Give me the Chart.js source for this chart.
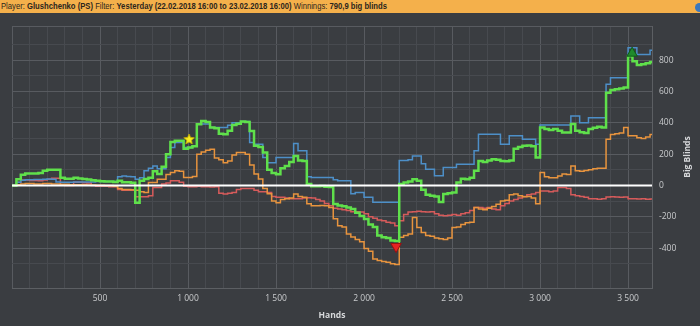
<!DOCTYPE html>
<html>
<head>
<meta charset="utf-8">
<script src="https://cdn.jsdelivr.net/npm/chart.js@4.4.1/dist/chart.umd.min.js"></script>
<style>
  html, body { margin: 0; padding: 0; background: #3a3d41; width: 700px; height: 326px; overflow: hidden; }
  #header { position: absolute; left: 0; top: 0; width: 700px; height: 13px; background: #f4b04b; overflow: hidden; }
  #headerText { position: absolute; left: 1px; top: 0; line-height: 13px; font: 9.5px 'Liberation Sans Narrow', 'Liberation Sans', sans-serif; color: #2b251d; white-space: nowrap; transform-origin: 0 0; }
  #headerText b { font-weight: 700; }
  #icon { position: absolute; left: 695px; top: 3px; width: 9px; height: 9px; border-radius: 50%; background: #3b78bd; }
  #wrap { position: absolute; left: 0; top: 14px; width: 700px; height: 312px; }
</style>
</head>
<body>
<div id="header">
  <span id="headerText">Player: <b>Glushchenko (PS)</b> Filter: <b>Yesterday (22.02.2018 16:00 to 23.02.2018 16:00)</b> Winnings: <b>790,9 big blinds</b></span>
  <div id="icon"></div>
</div>
<div id="wrap"><canvas id="graph" width="700" height="312"></canvas></div>
<script>
// hands played (x) and cumulative results in big blinds, read every 25 hands
const hands = [0, 25, 50, 75, 100, 125, 150, 175,
  200, 225, 250, 275, 300, 325, 350, 375,
  400, 425, 450, 475, 500, 525, 550, 575,
  600, 625, 650, 675, 700, 725, 750, 775,
  800, 825, 850, 875, 900, 925, 950, 975,
  1000, 1025, 1050, 1075, 1100, 1125, 1150, 1175,
  1200, 1225, 1250, 1275, 1300, 1325, 1350, 1375,
  1400, 1425, 1450, 1475, 1500, 1525, 1550, 1575,
  1600, 1625, 1650, 1675, 1700, 1725, 1750, 1775,
  1800, 1825, 1850, 1875, 1900, 1925, 1950, 1975,
  2000, 2025, 2050, 2075, 2100, 2125, 2150, 2175,
  2200, 2225, 2250, 2275, 2300, 2325, 2350, 2375,
  2400, 2425, 2450, 2475, 2500, 2525, 2550, 2575,
  2600, 2625, 2650, 2675, 2700, 2725, 2750, 2775,
  2800, 2825, 2850, 2875, 2900, 2925, 2950, 2975,
  3000, 3025, 3050, 3075, 3100, 3125, 3150, 3175,
  3200, 3225, 3250, 3275, 3300, 3325, 3350, 3375,
  3400, 3425, 3450, 3475, 3500, 3525, 3550, 3575,
  3600, 3625, 3636];

const netWon = [0, 40, 68, 76, 76, 76, 80, 94,
  100, 100, 100, 50, 43, 43, 49, 45,
  42, 38, 34, 30, 27, 25, 25, 22,
  30, 20, 20, 18, -110, 30, 42, 50,
  90, 74, 120, 200, 278, 285, 285, 234,
  243, 250, 391, 412, 405, 370, 365, 330,
  327, 350, 386, 395, 408, 405, 348, 253,
  245, 210, 100, 80, 72, 110, 125, 150,
  189, 160, 157, 10, -5, -5, -3, -8,
  -10, -118, -128, -132, -140, -150, -175, -195,
  -215, -250, -265, -320, -331, -335, -352, -355,
  10, 19, 25, 40, 30, -28, -60, -65,
  -70, -105, -55, -50, -45, 19, 43, 40,
  50, 94, 157, 150, 160, 168, 165, 157,
  155, 160, 234, 245, 253, 255, 250, 178,
  370, 361, 355, 361, 350, 338, 338, 393,
  350, 340, 335, 360, 368, 375, 370, 592,
  610, 615, 620, 625, 826, 794, 770, 775,
  780, 788, 788];

const allInAdj = [0, 20, 34, 36, 36, 38, 38, 40,
  42, 40, 22, 20, 20, 20, 22, 22,
  22, 22, 22, 25, 25, 25, 25, 25,
  55, 60, 58, 55, 40, 50, 94, 110,
  125, 106, 106, 178, 242, 275, 275, 242,
  242, 250, 393, 393, 393, 370, 370, 370,
  370, 385, 401, 401, 408, 408, 274, 263,
  263, 178, 145, 145, 178, 178, 178, 178,
  268, 221, 221, 55, 51, 51, 51, 51,
  51, 36, 30, 30, 30, -53, -45, -45,
  -76, -76, -108, -108, -108, -108, -108, -108,
  160, 160, 164, 189, 189, 138, 104, 104,
  62, 62, 115, 115, 115, 136, 136, 136,
  136, 221, 327, 327, 327, 327, 327, 263,
  263, 317, 317, 317, 296, 296, 296, 263,
  386, 386, 386, 386, 386, 386, 386, 444,
  444, 401, 401, 433, 433, 433, 433, 646,
  688, 688, 688, 688, 879, 879, 837, 837,
  837, 864, 864];

const showdownWon = [0, 5, 10, 12, 12, 10, 10, 12,
  12, 10, 10, 8, 8, 5, 5, 5,
  5, 3, 3, 2, 2, 0, 0, -5,
  -20, -25, -25, -28, -30, -40, -45, 19,
  19, 40, 40, 70, 83, 94, 90, 51,
  51, 57, 200, 214, 225, 232, 175, 165,
  145, 157, 195, 210, 210, 200, 130, 73,
  41, -20, -53, -100, -110, -90, -85, -80,
  -55, -70, -76, -117, -130, -130, -128, -130,
  -140, -212, -257, -265, -310, -330, -345, -360,
  -403, -420, -470, -480, -485, -490, -500, -505,
  -331, -320, -310, -204, -268, -300, -320, -325,
  -335, -340, -345, -335, -268, -265, -250, -238,
  -235, -140, -150, -155, -145, -135, -120, -100,
  -95, -60, -55, -65, -72, -70, -80, -117,
  83, 55, 49, 50, 60, 74, 70, 125,
  94, 90, 95, 100, 106, 110, 110, 296,
  325, 330, 335, 370, 317, 317, 304, 300,
  310, 325, 325];

const nonShowdownWon = [0, 20, 35, 35, 32, 32, 30, 35,
  40, 46, 46, 2, 0, 0, 20, 20,
  18, 15, 0, -5, -5, -5, -8, -8,
  -25, -30, -30, -30, -72, -72, -72, -65,
  -13, -13, 10, 15, 30, 30, 20, -5,
  -8, -8, -5, -8, -8, -10, -8, -50,
  -55, -50, -45, -25, -19, -19, -20, -30,
  -40, -40, -45, -70, -76, -76, -80, -85,
  -85, -85, -80, -78, -80, -90, -100, -115,
  -130, -145, -150, -155, -160, -168, -168, -170,
  -180, -200, -210, -220, -225, -235, -240, -258,
  -225, -185, -170, -168, -165, -168, -170, -168,
  -180, -190, -193, -190, -185, -190, -180, -175,
  -160, -140, -140, -145, -140, -150, -155, -130,
  -115, -100, -90, -80, -70, -60, -55, -45,
  -36, -36, -40, -36, -13, -13, -20, -60,
  -66, -70, -75, -85, -85, -88, -85, -74,
  -72, -74, -76, -74, -85, -85, -87, -85,
  -88, -87, -87];

// marked points: session high before drop, lowest point, highest point
const markerHands = [1006, 2182, 3523];
const markerValues = [297, -390, 845];

const yTickStep = 100;
const xTickStep = 100;

function fmtThousands(v) {
  if (Math.abs(v) < 1000) return String(v);
  return Math.floor(v / 1000) + ' ' + String(v % 1000).padStart(3, '0');
}

function starImage(size, fill, stroke) {
  const c = document.createElement('canvas');
  c.width = c.height = size;
  const g = c.getContext('2d');
  const cx = size / 2, cy = size / 2 + 0.5, R = size / 2 - 0.5, r = R * 0.45;
  g.beginPath();
  for (let i = 0; i < 10; i++) {
    const a = -Math.PI / 2 + i * Math.PI / 5;
    const rad = i % 2 ? r : R;
    g.lineTo(cx + rad * Math.cos(a), cy + rad * Math.sin(a));
  }
  g.closePath();
  g.fillStyle = fill;
  g.fill();
  g.strokeStyle = stroke;
  g.lineWidth = 0.8;
  g.stroke();
  return c;
}

// fit header text to the width it has in the original bar
const ht = document.getElementById('headerText');
ht.style.transform = 'scaleX(' + (386 / ht.getBoundingClientRect().width) + ')';

const toPts = vals => hands.map((h, i) => ({ x: h, y: vals[i] }));

const gridMinor = '#474a4f';
const gridMajor = '#585b60';

// white zero line, drawn over the series
const zeroLine = {
  id: 'zeroLine',
  afterDatasetsDraw(chart) {
    const { ctx, chartArea } = chart;
    const y = chart.scales.y.getPixelForValue(0);
    ctx.save();
    ctx.strokeStyle = '#ffffff';
    ctx.lineWidth = 2;
    ctx.beginPath();
    ctx.moveTo(chartArea.left, y);
    ctx.lineTo(chartArea.right, y);
    ctx.stroke();
    ctx.restore();
  },
  afterDraw(chart) {
    const ctx = chart.ctx;
    ctx.save();
    ctx.translate(688, 143);
    ctx.rotate(-Math.PI / 2);
    ctx.font = 'bold 8.5px "Open Sans"';
    ctx.fillStyle = '#d6d8da';
    ctx.textAlign = 'center';
    ctx.textBaseline = 'middle';
    ctx.fillText('Big Blinds', 0, 0);
    ctx.restore();
  }
};

new Chart(document.getElementById('graph'), {
  type: 'line',
  data: {
    datasets: [
      {
        type: 'scatter',
        data: markerHands.map((h, i) => ({ x: h, y: markerValues[i] })),
        showLine: false,
        pointStyle: [starImage(12, '#f7ec1f', '#c8b400'), 'triangle', 'triangle'],
        rotation: [0, 180, 0],
        pointRadius: 6,
        backgroundColor: ['#f7ec1f', '#e42222', '#1f8a2c'],
        borderColor: ['#c8b400', '#9a1010', '#0f5a18'],
        borderWidth: 1
      },
      { data: toPts(netWon), borderColor: '#5fe04b', borderWidth: 2.5, stepped: true, pointRadius: 0 },
      { data: toPts(allInAdj), borderColor: '#4d8fc8', borderWidth: 1.5, stepped: true, pointRadius: 0 },
      { data: toPts(showdownWon), borderColor: '#e8943e', borderWidth: 1.5, stepped: true, pointRadius: 0 },
      { data: toPts(nonShowdownWon), borderColor: '#d65b5b', borderWidth: 1.5, stepped: true, pointRadius: 0 }
    ]
  },
  options: {
    responsive: false,
    animation: false,
    layout: { padding: { left: 12, top: 11, right: 0, bottom: 0 } },
    plugins: { legend: { display: false }, tooltip: { enabled: false } },
    scales: {
      x: {
        type: 'linear',
        min: 0,
        max: 3636,
        afterFit: s => { s.height = 38; },
        border: { color: '#5c5f63' },
        grid: {
          drawTicks: false,
          color: c => (c.tick.value % 500 === 0 || c.index === 0) ? gridMajor : gridMinor
        },
        ticks: {
          stepSize: xTickStep,
          autoSkip: false,
          maxRotation: 0,
          padding: 5,
          color: '#c9cbcd',
          font: { family: 'Open Sans', size: 8.5 },
          callback: v => (v > 0 && v % 500 === 0) ? fmtThousands(v) : ''
        },
        title: {
          display: true,
          text: 'Hands',
          color: '#d6d8da',
          font: { family: 'Open Sans', size: 8.5, weight: 'bold' },
          padding: { top: 0, bottom: 5 }
        }
      },
      y: {
        position: 'right',
        min: -655,
        max: 1018,
        afterFit: s => { s.width = 48; },
        border: { color: '#5c5f63' },
        grid: {
          drawTicks: false,
          color: c => (c.tick.value % 200 === 0 || c.tick.value === 1018) ? gridMajor : gridMinor
        },
        ticks: {
          stepSize: yTickStep,
          padding: 7,
          color: '#c9cbcd',
          font: { family: 'Open Sans', size: 8.5 },
          callback: v => (v % 200 === 0 && v <= 800) ? String(v) : ''
        }
      }
    }
  },
  plugins: [zeroLine]
});
</script>
</body>
</html>
